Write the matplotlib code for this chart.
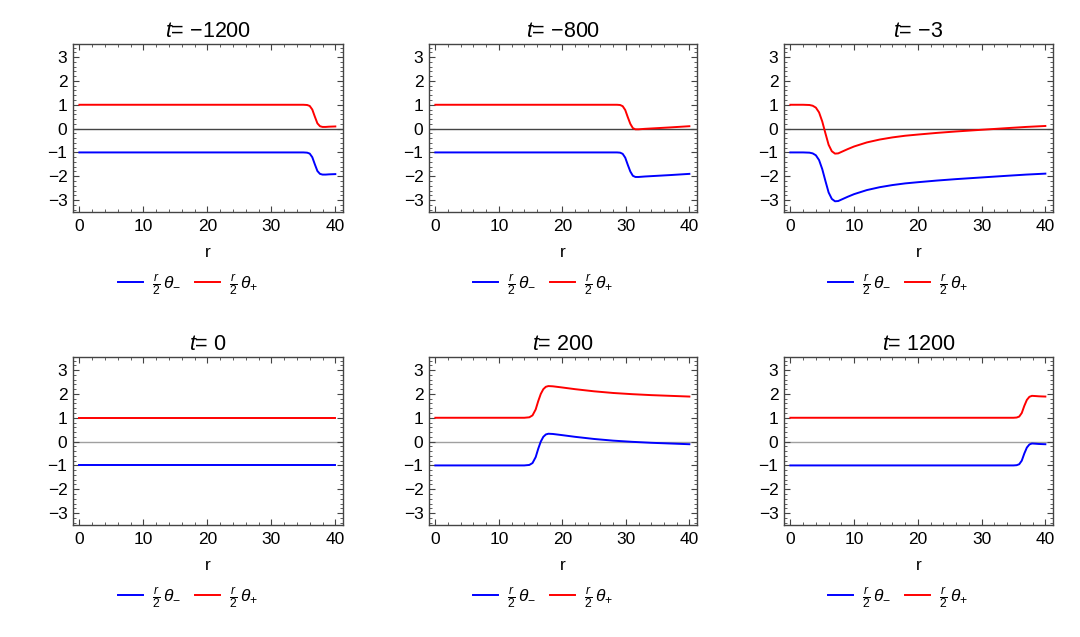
import matplotlib
matplotlib.use("Agg")
import matplotlib.pyplot as plt
from matplotlib.ticker import MultipleLocator

plt.rcParams['font.family'] = ['Liberation Sans', 'DejaVu Sans']
plt.rcParams['mathtext.fontset'] = 'custom'
plt.rcParams['mathtext.rm'] = 'Liberation Sans'
plt.rcParams['mathtext.it'] = 'Liberation Sans:italic'

# time labels of the six panels
times = ["\u22121200", "\u2212800", "\u22123", "0", "200", "1200"]

# panel t=-1200
r_1 = [0, 35, 35.6, 36.0, 36.4, 36.8, 37.2, 37.6, 38.0, 38.5, 39, 40]
plus_1 = [1, 1, 0.99, 0.95, 0.8, 0.5, 0.22, 0.1, 0.07, 0.07, 0.08, 0.09]
minus_1 = [-1, -1, -1.01, -1.05, -1.2, -1.5, -1.78, -1.9, -1.93, -1.93, -1.92, -1.91]

# panel t=-800
r_2 = [0, 28.6, 29.1, 29.5, 29.9, 30.3, 30.7, 31.1, 31.5, 32, 33, 35, 37, 40]
plus_2 = [1, 1, 0.99, 0.94, 0.78, 0.48, 0.2, 0.02, -0.03, -0.03, -0.01, 0.02, 0.05, 0.1]
minus_2 = [-1, -1, -1.01, -1.06, -1.22, -1.52, -1.8, -1.98, -2.03, -2.03, -2.01, -1.98, -1.95, -1.9]

# panel t=-3
r_3 = [0, 2, 3, 3.5, 4, 4.5, 5, 5.5, 6, 6.5, 7, 7.5, 8, 9, 10, 12, 14, 16, 18,
       20, 23, 26, 30, 34, 37, 40]
plus_3 = [1.0, 1.0, 0.99, 0.96, 0.88, 0.68, 0.3, -0.2, -0.68, -0.95, -1.05, -1.04,
          -0.98, -0.86, -0.75, -0.58, -0.46, -0.37, -0.3, -0.25, -0.18, -0.12,
          -0.05, 0.02, 0.07, 0.11]
minus_3 = [-1.0, -1.0, -1.01, -1.04, -1.12, -1.32, -1.7, -2.2, -2.68, -2.95, -3.05,
           -3.04, -2.98, -2.86, -2.75, -2.58, -2.46, -2.37, -2.3, -2.25, -2.18,
           -2.12, -2.05, -1.98, -1.93, -1.89]

# panel t=0
r_4 = [0, 40]
plus_4 = [1, 1]
minus_4 = [-1, -1]

# panel t=200
r_5 = [0, 14, 14.8, 15.3, 15.8, 16.2, 16.6, 17.0, 17.4, 17.8, 18.5, 20, 22, 25,
       28, 31, 34, 37, 40]
plus_5 = [1, 1, 1.02, 1.1, 1.35, 1.7, 2.0, 2.2, 2.3, 2.33, 2.32, 2.27, 2.2, 2.11,
          2.04, 1.99, 1.95, 1.92, 1.89]
minus_5 = [-1, -1, -0.98, -0.9, -0.65, -0.3, 0.0, 0.2, 0.3, 0.33, 0.32, 0.27, 0.2,
           0.11, 0.04, -0.01, -0.05, -0.08, -0.11]

# panel t=1200
r_6 = [0, 35, 35.5, 35.9, 36.3, 36.7, 37.1, 37.5, 37.9, 38.5, 39, 40]
plus_6 = [1, 1, 1.01, 1.05, 1.2, 1.5, 1.75, 1.88, 1.92, 1.91, 1.9, 1.89]
minus_6 = [-1, -1, -0.99, -0.95, -0.8, -0.5, -0.25, -0.12, -0.08, -0.09, -0.1, -0.11]

r_all = [r_1, r_2, r_3, r_4, r_5, r_6]
plus_all = [plus_1, plus_2, plus_3, plus_4, plus_5, plus_6]
minus_all = [minus_1, minus_2, minus_3, minus_4, minus_5, minus_6]

W, H = 1080, 637
fig = plt.figure(figsize=(W / 100, H / 100), dpi=100)

col_left = [73, 429, 784]
col_width = [270, 268, 269]
row_top = [44, 357]
ax_h = 168

for i in range(6):
    row, col = divmod(i, 3)
    ax = fig.add_axes([col_left[col] / W, 1 - (row_top[row] + ax_h) / H,
                       col_width[col] / W, ax_h / H])
    zero_col = '#444444' if row == 0 else '#a0a0a0'
    ax.axhline(0, color=zero_col, lw=1.0, zorder=1)
    ax.plot(r_all[i], minus_all[i], color='#0000ff', lw=1.4, label=r'$\frac{r}{2}\,\theta_{-}$')
    ax.plot(r_all[i], plus_all[i], color='#ff0000', lw=1.4, label=r'$\frac{r}{2}\,\theta_{+}$')
    ax.set_xlim(-1, 41.2)
    ax.set_ylim(-3.5, 3.55)
    ax.xaxis.set_major_locator(MultipleLocator(10))
    ax.xaxis.set_minor_locator(MultipleLocator(2))
    ax.yaxis.set_major_locator(MultipleLocator(1))
    ax.yaxis.set_minor_locator(MultipleLocator(0.2))
    ax.tick_params(which='both', direction='in', top=True, right=True,
                   color='#444444', labelsize=12.5)
    ax.tick_params(which='major', length=4, width=0.8)
    ax.tick_params(which='minor', length=2, width=0.6)
    ax.tick_params(axis='x', pad=5)
    ax.tick_params(axis='y', pad=4)
    for s in ax.spines.values():
        s.set_color('#444444')
        s.set_linewidth(1.0)
    ax.set_xlabel('r', fontsize=12.5, labelpad=8)
    ax.set_title(r'$t$= ' + times[i], fontsize=15.5, pad=5)
    ax.legend(loc='center', bbox_to_anchor=(0.425, -0.43), ncol=2, frameon=False,
              fontsize=12.5, handlelength=1.45, handletextpad=0.5, columnspacing=0.8)

fig.savefig('out.png', dpi=100)
